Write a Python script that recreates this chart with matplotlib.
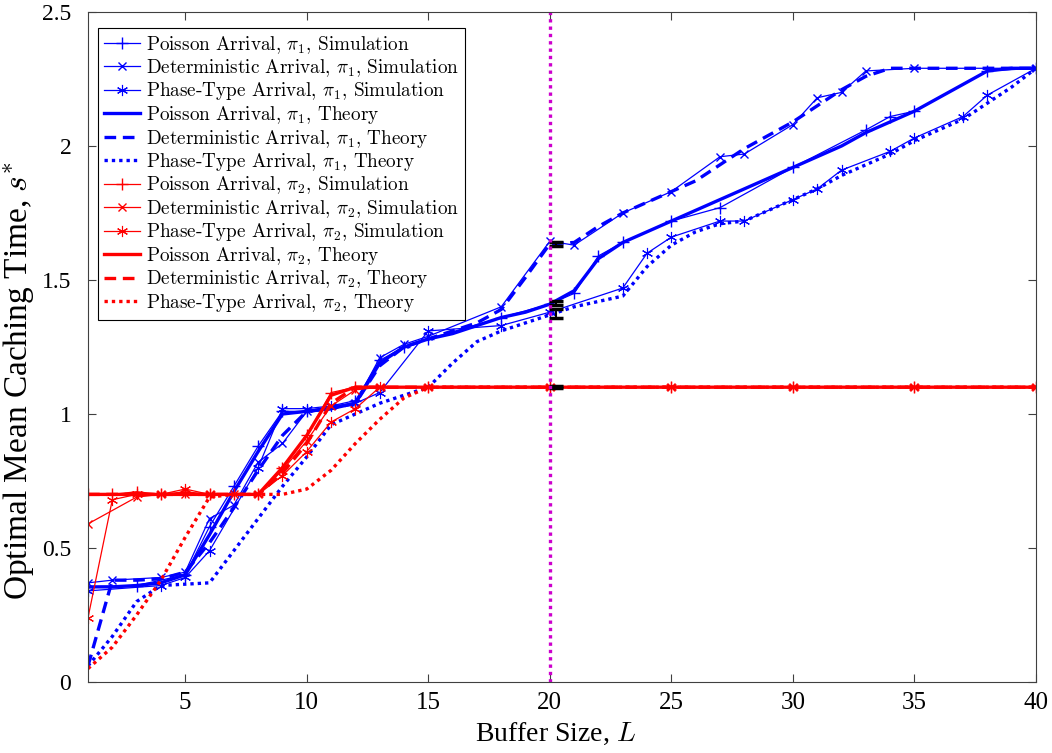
import numpy as np
import matplotlib
matplotlib.use("Agg")
import matplotlib.pyplot as plt
from matplotlib.font_manager import FontProperties

plt.rcParams['mathtext.fontset'] = 'cm'
plt.rcParams['font.family'] = ['Liberation Serif', 'DejaVu Serif']

# buffer sizes for the theory curves
L = np.arange(1, 41)

# pi_1 theory
p1_poi_th = [0.355, 0.355, 0.36, 0.37, 0.40, 0.55, 0.71, 0.86, 1.00, 1.01,
             1.02, 1.04, 1.19, 1.25, 1.28, 1.30, 1.33, 1.36, 1.38, 1.41,
             1.46, 1.58, 1.64, 1.68, 1.72, 1.76, 1.80, 1.84, 1.88, 1.92,
             1.96, 2.00, 2.05, 2.09, 2.13, 2.18, 2.23, 2.28, 2.29, 2.29]
p1_det_th = [0.06, 0.38, 0.38, 0.385, 0.41, 0.52, 0.65, 0.79, 0.92, 1.01,
             1.02, 1.04, 1.18, 1.25, 1.28, 1.31, 1.34, 1.39, 1.51, 1.635,
             1.64, 1.70, 1.75, 1.79, 1.83, 1.87, 1.93, 1.99, 2.04, 2.09,
             2.15, 2.21, 2.26, 2.29, 2.29, 2.29, 2.29, 2.29, 2.29, 2.29]
p1_pht_th = [0.06, 0.17, 0.30, 0.36, 0.365, 0.37, 0.49, 0.61, 0.73, 0.84,
             0.96, 1.00, 1.04, 1.07, 1.10, 1.19, 1.27, 1.31, 1.34, 1.37,
             1.40, 1.42, 1.44, 1.55, 1.63, 1.68, 1.71, 1.72, 1.76, 1.80,
             1.84, 1.89, 1.93, 1.97, 2.02, 2.06, 2.10, 2.16, 2.22, 2.29]

# pi_2 theory
p2_poi_th = [0.70] * 8 + [0.80, 0.92, 1.07] + [1.10] * 29
p2_det_th = [0.70] * 8 + [0.78, 0.89, 1.04] + [1.10] * 29
p2_pht_th = [0.05, 0.13, 0.25, 0.38, 0.54, 0.69, 0.70, 0.70, 0.70, 0.72,
             0.79, 0.89, 0.98, 1.06] + [1.10] * 26

# pi_1 simulation
p1_poi_L = [1, 3, 5, 6, 7, 8, 9, 10, 12, 13, 14, 15, 18, 20, 21, 22, 23, 25, 27, 30, 33, 34, 35, 38, 40]
p1_poi_sim = [0.355, 0.36, 0.40, 0.58, 0.73, 0.88, 1.01, 1.01, 1.05, 1.20, 1.25, 1.28, 1.36,
              1.41, 1.45, 1.59, 1.64, 1.72, 1.77, 1.92, 2.06, 2.11, 2.13, 2.28, 2.29]
p1_det_L = [1, 2, 4, 5, 6, 7, 8, 9, 10, 12, 13, 14, 15, 18, 20, 21, 23, 25, 27, 28, 30, 31, 32, 33, 35, 40]
p1_det_sim = [0.37, 0.38, 0.39, 0.41, 0.61, 0.66, 0.82, 0.89, 1.01, 1.04, 1.21, 1.26, 1.29, 1.40,
              1.645, 1.63, 1.75, 1.83, 1.96, 1.97, 2.08, 2.18, 2.20, 2.28, 2.29, 2.29]
p1_pht_L = [1, 4, 5, 6, 8, 9, 10, 11, 12, 13, 15, 18, 20, 23, 24, 25, 27, 28, 30, 31, 32, 34, 35, 37, 38, 40]
p1_pht_sim = [0.34, 0.36, 0.39, 0.49, 0.80, 1.02, 1.02, 1.03, 1.04, 1.08, 1.31, 1.33, 1.38, 1.47,
              1.60, 1.66, 1.72, 1.72, 1.80, 1.84, 1.91, 1.98, 2.03, 2.11, 2.19, 2.29]

# pi_2 simulation
p2_poi_L = [1, 2, 3, 4, 5, 6, 7, 8, 9, 10, 11, 12, 15, 20, 25, 30, 35, 40]
p2_poi_sim = [0.70, 0.70, 0.71, 0.70, 0.71, 0.70, 0.70, 0.70, 0.80, 0.92, 1.08, 1.10, 1.10, 1.10,
              1.10, 1.10, 1.10, 1.10]
p2_det_L = [1, 3, 4, 5, 6, 7, 8, 9, 10, 11, 12, 13, 15, 20, 25, 30, 35, 40]
p2_det_sim = [0.59, 0.69, 0.70, 0.70, 0.70, 0.70, 0.70, 0.79, 0.90, 1.03, 1.09, 1.10, 1.10, 1.10,
              1.10, 1.10, 1.10, 1.10]
p2_pht_L = [1, 2, 3, 4, 5, 6, 8, 9, 10, 11, 12, 13, 15, 20, 25, 30, 35, 40]
p2_pht_sim = [0.24, 0.68, 0.70, 0.70, 0.72, 0.70, 0.70, 0.77, 0.86, 0.97, 1.02, 1.10, 1.10, 1.10,
              1.10, 1.10, 1.10, 1.10]

# error bars at L = 20
err_y = [1.635, 1.415, 1.375, 1.10]
err_e = [0.008, 0.008, 0.015, 0.004]

blue = '#0000ff'
red = '#ff0000'
thin = 0.9
thick = 2.4

fig = plt.figure(figsize=(10.52, 7.53), dpi=100)
ax = fig.add_axes([88 / 1052, 1 - 682 / 753, 948 / 1052, 670 / 753])

ax.plot(p1_poi_L, p1_poi_sim, '-', marker='+', color=blue, lw=thin, ms=8, label=r'Poisson Arrival, $\pi_1$, Simulation')
ax.plot(p1_det_L, p1_det_sim, '-', marker='x', color=blue, lw=thin, ms=6, label=r'Deterministic Arrival, $\pi_1$, Simulation')
ax.plot(p1_pht_L, p1_pht_sim, '-', marker=(6, 2, 0), color=blue, lw=thin, ms=8, mew=0.8, label=r'Phase-Type Arrival, $\pi_1$, Simulation')
ax.plot(L, p1_poi_th, '-', color=blue, lw=thick, label=r'Poisson Arrival, $\pi_1$, Theory')
ax.plot(L, p1_det_th, '--', color=blue, lw=thick, dashes=(3.5, 2), label=r'Deterministic Arrival, $\pi_1$, Theory')
ax.plot(L, p1_pht_th, ':', color=blue, lw=thick, dashes=(1, 1.2), label=r'Phase-Type Arrival, $\pi_1$, Theory')
ax.plot(p2_poi_L, p2_poi_sim, '-', marker='+', color=red, lw=thin, ms=8, label=r'Poisson Arrival, $\pi_2$, Simulation')
ax.plot(p2_det_L, p2_det_sim, '-', marker='x', color=red, lw=thin, ms=6, label=r'Deterministic Arrival, $\pi_2$, Simulation')
ax.plot(p2_pht_L, p2_pht_sim, '-', marker=(6, 2, 0), color=red, lw=thin, ms=8, mew=0.8, label=r'Phase-Type Arrival, $\pi_2$, Simulation')
ax.plot(L, p2_poi_th, '-', color=red, lw=thick, label=r'Poisson Arrival, $\pi_2$, Theory')
ax.plot(L, p2_det_th, '--', color=red, lw=thick, dashes=(3.5, 2), label=r'Deterministic Arrival, $\pi_2$, Theory')
ax.plot(L, p2_pht_th, ':', color=red, lw=thick, dashes=(1, 1.2), label=r'Phase-Type Arrival, $\pi_2$, Theory')

ax.errorbar([20.25] * len(err_y), err_y, yerr=err_e, fmt='none', ecolor='black',
            elinewidth=1.5, capsize=5, capthick=2.5)
ax.axvline(20, color='#cc00cc', lw=2.4, ls=':', dashes=(1, 1.2))

ax.set_xlim(1, 40)
ax.set_ylim(0, 2.5)
ax.set_xticks([5, 10, 15, 20, 25, 30, 35, 40])
ax.set_yticks([0, 0.5, 1, 1.5, 2, 2.5])
ax.set_yticklabels(['0', '0.5', '1', '1.5', '2', '2.5'])
ax.tick_params(direction='in', top=True, right=True, length=6, color='#404040')
ax.tick_params(axis='x', labelsize=18, pad=7)
ax.tick_params(axis='y', labelsize=17, pad=12)
for s in ax.spines.values():
    s.set_color('#404040')
    s.set_linewidth(0.8)

ax.set_xlabel(r'Buffer Size, $L$', fontsize=20)
ax.xaxis.set_label_coords(0.493, -0.058)
ax.set_ylabel(r'Optimal Mean Caching Time, $s^{*}$', fontsize=24)
ax.yaxis.set_label_coords(-0.055, 0.449)

leg = ax.legend(loc='upper left', bbox_to_anchor=(0.0105, 0.976), borderaxespad=0,
                prop=FontProperties(family='cmr10', size=13.8), fancybox=False,
                edgecolor='black', framealpha=1, handlelength=1.9, handletextpad=0.3,
                labelspacing=0.08, borderpad=0.3)
leg.get_frame().set_linewidth(0.8)

fig.savefig('out.png', dpi=100)
